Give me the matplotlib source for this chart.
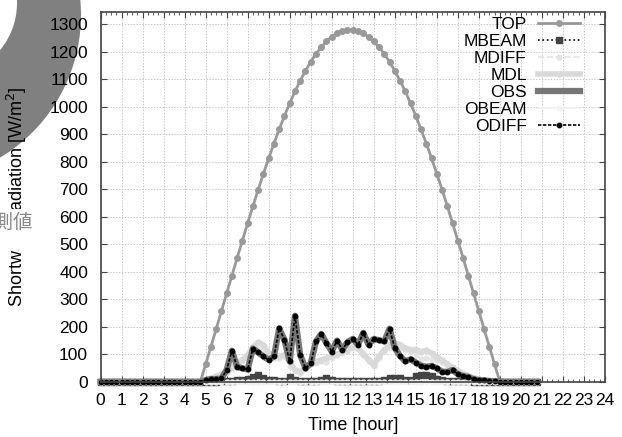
import numpy as np
import matplotlib
matplotlib.use("Agg")
import matplotlib.pyplot as plt
from matplotlib.patches import Circle, Rectangle

plt.rcParams['font.family'] = ['Liberation Sans', 'DejaVu Sans']

# Time axis: 15-minute steps from 00:00 to 20:45
time_hours = np.arange(0, 21, 0.25)

night_am = [0] * 19     # 00:00 - 04:30
night_pm = [0] * 7      # 19:15 - 20:45

# Daytime values, 04:45 - 19:00 (W/m^2)
top_day = [0, 63, 127, 191, 256, 321, 385, 450, 513, 576, 638, 698, 756, 812,
           866, 917, 966, 1012, 1055, 1094, 1130, 1163, 1192, 1216, 1237, 1254,
           1267, 1275, 1279, 1279, 1275, 1267, 1254, 1237, 1216, 1192, 1163, 1130,
           1094, 1055, 1012, 966, 917, 866, 812, 756, 698, 638, 576, 513, 450, 385,
           321, 256, 191, 127, 63, 0]
mbeam_day = [0, 0, 0, 1, 2, 3, 4, 5, 6, 10, 18, 25, 14, 6, 5, 4, 4, 16, 5, 4,
             4, 4, 4, 6, 14, 5, 4, 4, 4, 4, 4, 4, 3, 4, 4, 5, 12, 15, 12, 8, 8,
             20, 26, 26, 20, 10, 6, 4, 4, 3, 2, 4, 1, 0, 0, 0, 0, 0]
mdl_day = [0, 5, 12, 20, 28, 37, 52, 67, 80, 98, 125, 143, 135, 104, 92, 92,
           98, 74, 43, 37, 49, 67, 74, 80, 86, 92, 100, 110, 117, 127, 125, 100,
           80, 61, 92, 117, 134, 141, 135, 123, 117, 117, 110, 114, 104, 90, 78,
           65, 52, 40, 30, 22, 14, 9, 6, 4, 2, 0]
odiff_day = [0, 6, 10, 10, 12, 43, 113, 55, 49, 45, 121, 107, 92, 80, 92, 194,
             153, 74, 240, 98, 49, 67, 147, 174, 141, 110, 150, 117, 144, 156,
             135, 178, 135, 156, 151, 147, 193, 123, 94, 74, 82, 70, 59, 55, 58,
             49, 37, 36, 43, 28, 21, 18, 9, 6, 5, 3, 2, 1]
obeam_day = [0] * 58

TOP = np.array(night_am + top_day + night_pm, dtype=float)
MBEAM = np.array(night_am + mbeam_day + night_pm, dtype=float)
MDL = np.array(night_am + mdl_day + night_pm, dtype=float)
MDIFF = np.clip(MDL - MBEAM, 0, None)
ODIFF = np.array(night_am + odiff_day + night_pm, dtype=float)
OBEAM = np.array(night_am + obeam_day + night_pm, dtype=float)
OBS = ODIFF + OBEAM

W, H, DPI = 622, 437, 100
fig = plt.figure(figsize=(W / DPI, H / DPI), dpi=DPI)

# Decorative grey ring in the upper-left corner
fig.add_artist(Circle((-0.85, 4.22), 1.66, transform=fig.dpi_scale_trans,
                      facecolor='#808080', edgecolor='none', zorder=-2))
fig.add_artist(Circle((-0.57, 4.34), 0.74, transform=fig.dpi_scale_trans,
                      facecolor='white', edgecolor='none', zorder=-1))

L, R, B, T = 100.5, 605, 381.8, 11.7
ax = fig.add_axes([L / W, (H - B) / H, (R - L) / W, (B - T) / H])

ax.plot(time_hours, TOP, color='#999999', lw=2.0, ls='-',
        marker='o', ms=4, mec='#999999', mfc='#999999', label='TOP', clip_on=False)
ax.plot(time_hours, MBEAM, color='black', lw=1.2, ls=':',
        marker='s', ms=4.5, mec='#444444', mfc='#444444', label='MBEAM', clip_on=False)
ax.plot(time_hours, MDIFF, color='#e4e4e4', lw=1.2, ls='--',
        marker='o', ms=3.5, mec='#e4e4e4', mfc='#e4e4e4', label='MDIFF', clip_on=False)
ax.plot(time_hours, MDL, color='#d9d9d9', lw=4.0, ls='-',
        marker='o', ms=3.5, mec='#d9d9d9', mfc='#d9d9d9', label='MDL', clip_on=False)
ax.plot(time_hours, OBS, color='#777777', lw=4.5, ls='-',
        label='OBS', clip_on=False)
ax.plot(time_hours, OBEAM, color='#f2f2f2', lw=1.2, ls='-',
        marker='o', ms=3.5, mec='#f2f2f2', mfc='#f2f2f2', label='OBEAM', clip_on=False)
ax.plot(time_hours, ODIFF, color='black', lw=1.2, ls=(0, (2, 1)),
        marker='o', ms=3.2, mec='black', mfc='black', label='ODIFF', clip_on=False)

ax.set_xlim(0, 24)
ax.set_ylim(0, 1345)
ax.set_xticks(np.arange(0, 25, 1))
ax.set_xticks(np.arange(0, 24.01, 0.25), minor=True)
ax.set_yticks(np.arange(0, 1301, 100))
ax.grid(True, which='major', color='#c8c8c8', ls=(0, (1.5, 1.5)), lw=0.7)
ax.set_axisbelow(True)
ax.tick_params(which='both', direction='in', top=True, right=True,
               colors='#444444', labelcolor='black', labelsize=12.5)
ax.tick_params(which='major', length=4, width=0.8)
ax.tick_params(axis='y', pad=9)
ax.tick_params(axis='x', pad=8)
ax.tick_params(which='minor', length=2.5, width=0.6)
for s in ax.spines.values():
    s.set_color('#444444')
    s.set_linewidth(1.2)

ax.set_xlabel('Time [hour]', fontsize=13)
ax.xaxis.set_label_coords(0.5, -0.095)
ax.set_ylabel('Shortwave radiation [W/m$^2$]', fontsize=13)
ax.yaxis.set_label_coords(-0.142, 0.5)

leg = ax.legend(loc='upper right', bbox_to_anchor=(0.975, 1.02), frameon=False,
                markerfirst=False, fontsize=12.5, handlelength=2.45,
                handletextpad=0.63, labelspacing=0.11, borderpad=0.2)

# Caption box on the left margin
fig.add_artist(Rectangle((-0.1, 1.87), 0.54, 0.41, transform=fig.dpi_scale_trans,
                         facecolor='white', edgecolor='none', zorder=5))
fig.text(33 / W, (H - 222) / H, '観測値', ha='right', va='center', fontsize=14,
         color='#888888', family=['Noto Sans CJK JP', 'DejaVu Sans'], zorder=6)

fig.savefig('out.png', dpi=DPI)
